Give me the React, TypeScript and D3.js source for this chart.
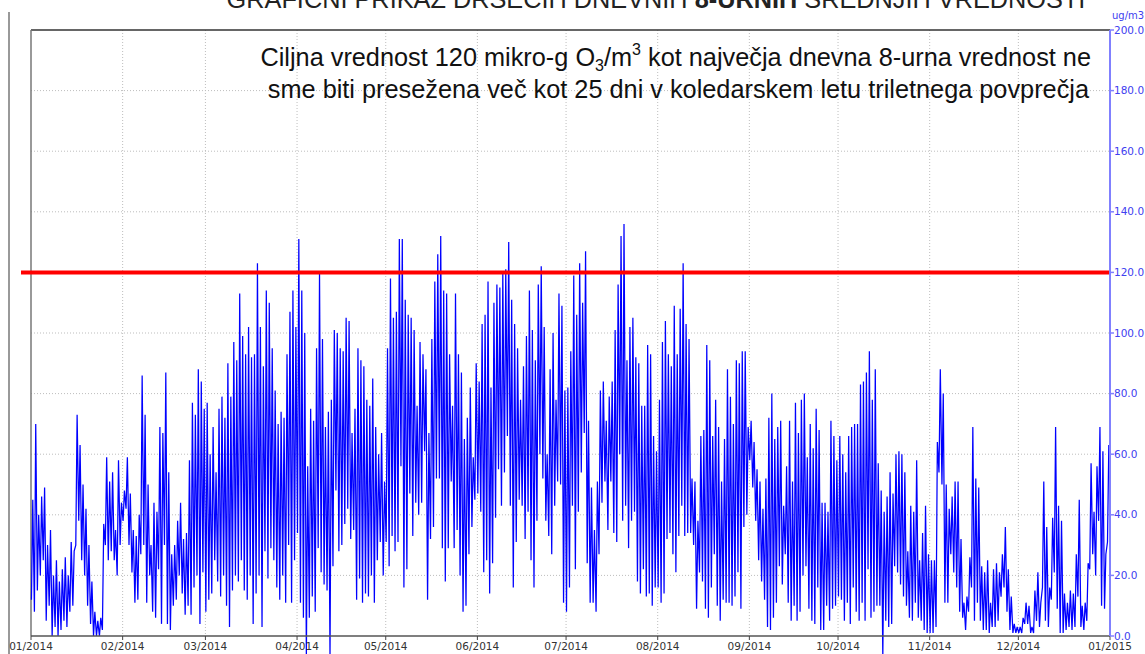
import React from 'react';
import * as d3 from 'd3';

// Rolling 8-hour ozone means, read off the chart as a daily peak / daily low pair
// (peak, low, peak, low ...). Negative lows are the dropouts that run off the bottom.
const jan = [45,12, 70,8, 40,15, 46,20, 49,25, 30,5, 35,10, 20,0, 25,3, 18,0, 22,2, 26,5, 20,3, 31,8, 28,10, 73,30, 63,38, 50,25, 42,20, 30,10, 18,4, 8,0, 5,0, 6,0, 37,2, 59,30, 51,25, 54,28, 35,25, 58,20, 44,30];
const feb = [48,38, 59,42, 47,30, 35,21, 33,11, 40,12, 86,27, 73,30, 50,11, 30,20, 44,8, 41,6, 69,22, 67,4, 87,30, 54,4, 27,2, 30,10, 38,12, 44,20, 32,14, 34,7, 58,10, 77,7, 73,16, 88,20, 84,4, 75,21];
const mar = [77,8, 60,12, 69,14, 54,25, 75,18, 79,13, 72,20, 90,10, 79,3, 97,15, 91,20, 113,18, 99,25, 93,15, 102,12, 92,20, 93,4, 123,14, 102,20, 89,3, 114,28, 110,19, 95,29, 81,25, 70,16, 74,12, 72,20, 93,11, 107,30, 114,11, 102,25];
const apr = [131,34, 114,11, 100,6, 56,-7, 75,6, 71,13, 95,8, 120,29, 98,21, 69,17, 74,15, 78,-7, 101,23, 100,48, 95,28, 94,30, 105,37, 104,42, 67,32, 75,35, 95,12, 91,19, 89,11, 78,14, 76,13, 85,20, 69,11, 60,25, 67,31, 51,20];
const may = [95,31, 118,23, 105,33, 107,28, 131,31, 131,56, 111,16, 106,22, 105,47, 101,33, 76,44, 97,40, 93,44, 88,61, 67,12, 98,32, 117,36, 126,52, 132,52, 114,29, 113,18, 93,29, 76,51, 113,29, 93,35, 87,20, 65,8, 72,10, 82,27, 59,36, 90,45];
const jun = [84,47, 103,41, 106,21, 117,25, 82,14, 110,24, 116,39, 115,55, 120,43, 121,54, 130,66, 111,43, 103,16, 95,31, 78,45, 89,43, 99,32, 114,41, 101,25, 91,16, 116,38, 122,60, 102,52, 60,38, 88,33, 100,27, 78,43, 113,51, 109,50, 81,11];
const jul = [82,8, 94,16, 119,43, 106,22, 123,41, 110,54, 127,67, 71,24, 49,11, 35,11, 51,8, 81,27, 84,44, 71,51, 79,35, 84,51, 101,34, 116,31, 132,60, 136,38, 91,43, 102,29, 105,38, 92,41, 90,18, 76,14, 76,22, 96,13, 93,14, 66,10, 61,16];
const aug = [78,16, 97,11, 104,14, 93,32, 89,34, 109,27, 93,21, 108,33, 123,43, 103,33, 98,34, 52,34, 51,30, 38,9, 66,21, 68,18, 96,9, 91,6, 66,16, 78,27, 69,10, 51,5, 65,12, 88,11, 79,11, 70,10, 91,13, 90,21, 94,9, 94,36, 69,40];
const sep = [71,58, 64,49, 55,38, 51,25, 42,18, 52,12, 72,3, 80,2, 65,6, 69,11, 71,23, 43,17, 56,27, 71,11, 51,5, 77,10, 67,5, 78,8, 80,20, 59,23, 70,9, 62,5, 75,4, 68,16, 44,2, 44,2, 41,10, 71,5, 66,9, 58,10];
const oct = [66,13, 60,12, 54,5, 66,11, 69,4, 70,16, 70,8, 83,5, 84,11, 87,5, 94,22, 78,6, 88,8, 57,10, 48,10, 41,-7, 46,5, 54,3, 47,4, 60,23, 61,21, 60,17, 54,13, 28,10, 43,6, 41,5, 58,11, 25,6, 34,5, 43,2, 27,1];
const nov = [25,1, 25,1, 64,3, 88,54, 80,50, 50,11, 42,11, 46,27, 51,21, 51,16, 32,8, 11,6, 13,2, 26,8, 69,16, 52,5, 49,11, 23,5, 21,2, 25,2, 11,1, 22,3, 24,3, 21,5, 27,13, 36,16, 22,8, 13,2, 4,1, 3,1];
const dec = [3,1, 6,1, 11,4, 10,4, 3,1, 15,1, 21,5, 11,3, 51,16, 36,5, 16,3, 39,12, 69,21, 43,9, 38,1, 14,1, 11,2, 15,3, 14,2, 27,3, 45,13, 10,3, 11,2, 24,5, 57,22, 41,27, 56,20, 69,38, 61,10, 27,9, 63,31];

const months = [jan, feb, mar, apr, may, jun, jul, aug, sep, oct, nov, dec];

const yTicks = [0, 20, 40, 60, 80, 100, 120, 140, 160, 180, 200];
const targetValue = 120;

const titleStart = 'GRAFIČNI PRIKAZ DRSEČIH DNEVNIH ';
const titleBold = '8-URNIH';
const titleEnd = ' SREDNJIH VREDNOSTI';
const unitLabel = 'ug/m3';

const W = 1145;
const H = 654;
const margin = { top: 30, right: 35, bottom: 18, left: 31 };

export default function App() {
  const start = new Date(Date.UTC(2014, 0, 1));
  const end = new Date(Date.UTC(2015, 0, 1));

  const x = d3.scaleUtc().domain([start, end]).range([margin.left, W - margin.right]);
  const y = d3.scaleLinear().domain([0, 200]).range([H - margin.bottom, margin.top]);

  // interleave: low early in the day, peak in the afternoon
  const points: [Date, number][] = [];
  months.forEach((vals, m) => {
    for (let i = 0; i < vals.length / 2; i++) {
      const hi = vals[i * 2];
      const lo = vals[i * 2 + 1];
      const day = Date.UTC(2014, m, i + 1);
      points.push([new Date(day + 0.15 * 864e5), lo]);
      points.push([new Date(day + 0.6 * 864e5), hi]);
    }
  });

  const line = d3.line<[Date, number]>()
    .x(d => x(d[0]))
    .y(d => y(d[1]));

  const monthTicks = d3.utcMonth.range(start, d3.utcDay.offset(end, 1));
  const fmtMonth = d3.utcFormat('%m/%Y');
  const left = margin.left;
  const right = W - margin.right;
  const top = margin.top;
  const bottom = H - margin.bottom;
  const axisBlue = '#8080ff';
  const labelBlue = '#4040f0';

  return (
    <svg width={W} height={H} style={{ position: 'absolute', left: 0, top: 0, background: '#fff' }}
      fontFamily="'DejaVu Sans', Verdana, sans-serif">
      {/* left frame line */}
      <line x1={9} x2={9} y1={12} y2={H} stroke="#999" strokeWidth={2} />

      {/* title, partly above the page */}
      <text x={656} y={8} textAnchor="middle" fontSize={25.3} fill="#222"
        fontFamily="'Liberation Sans', Arial, sans-serif">
        {titleStart}<tspan fontWeight="bold">{titleBold}</tspan>{titleEnd}
      </text>

      {/* grid */}
      {yTicks.filter(t => t > 0 && t < 200).map(t => (
        <line key={'h' + t} x1={left} x2={right} y1={y(t)} y2={y(t)}
          stroke="#bdbdbd" strokeDasharray="1,2" />
      ))}
      {monthTicks.slice(1, -1).map(d => (
        <line key={'v' + d.getTime()} x1={x(d)} x2={x(d)} y1={top} y2={bottom}
          stroke="#bdbdbd" strokeDasharray="1,2" />
      ))}

      {/* frame */}
      <line x1={left} x2={right} y1={top} y2={top} stroke="#333" strokeWidth={1.5} />
      <line x1={left} x2={left} y1={top} y2={bottom} stroke="#777" strokeWidth={1.5} />

      {/* series */}
      <path d={line(points) || ''} fill="none" stroke="#0000ff" strokeWidth={1.25} />

      {/* target line */}
      <line x1={21} x2={right} y1={y(targetValue)} y2={y(targetValue)} stroke="#ff0000" strokeWidth={4} />

      {/* bottom axis */}
      <line x1={left} x2={right} y1={bottom} y2={bottom} stroke="#555" strokeWidth={1.5} />
      {monthTicks.map(d => (
        <g key={'t' + d.getTime()} transform={`translate(${x(d)},${bottom})`}>
          <line y1={0} y2={4} stroke="#444" />
          <text y={14} textAnchor="middle" fontSize={10.5} fill="#333">{fmtMonth(d)}</text>
        </g>
      ))}

      {/* right axis */}
      <line x1={right} x2={right} y1={top} y2={bottom} stroke={axisBlue} strokeWidth={2} />
      {yTicks.map(t => (
        <g key={'y' + t} transform={`translate(${right},${y(t)})`}>
          <line x1={0} x2={4} stroke={axisBlue} strokeWidth={1.5} />
          <text x={4} dy="0.35em" fontSize={10.5} fill={labelBlue}>{t.toFixed(1)}</text>
        </g>
      ))}
      <text x={1112} y={19} fontSize={10} fill={labelBlue}>{unitLabel}</text>

      {/* annotation */}
      <g fontFamily="'Liberation Sans', Arial, sans-serif" fontSize={25.3} fill="#111" textAnchor="end">
        <text x={1091} y={66}>
          Ciljna vrednost 120 mikro-g O<tspan fontSize={16} dy={5}>3</tspan>
          <tspan dy={-5}>/m</tspan><tspan fontSize={16} dy={-11}>3</tspan>
          <tspan dy={11}> kot največja dnevna 8-urna vrednost ne</tspan>
        </text>
        <text x={1089} y={98}>sme biti presežena več kot 25 dni v koledarskem letu triletnega povprečja</text>
      </g>
    </svg>
  );
}
